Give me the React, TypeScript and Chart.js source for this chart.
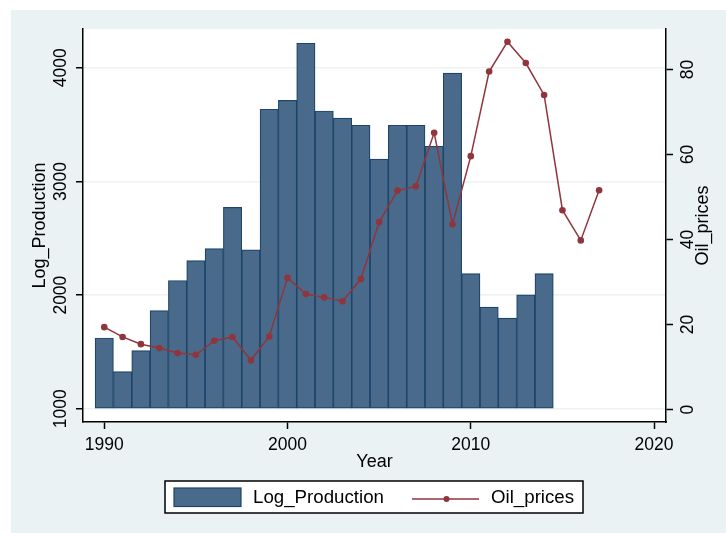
import React, { useEffect, useRef } from "react";
import { Chart, registerables } from "chart.js";

Chart.register(...registerables);

// ---- data ----
const years = [1990, 1991, 1992, 1993, 1994, 1995, 1996, 1997, 1998, 1999, 2000, 2001, 2002, 2003, 2004, 2005, 2006, 2007, 2008, 2009, 2010, 2011, 2012, 2013, 2014];
const logProduction = [1623, 1327, 1512, 1863, 2129, 2304, 2409, 2772, 2398, 3635, 3713, 4216, 3620, 3558, 3494, 3196, 3494, 3494, 3310, 3953, 2190, 1895, 1798, 2003, 2190];
const priceYears = [1990, 1991, 1992, 1993, 1994, 1995, 1996, 1997, 1998, 1999, 2000, 2001, 2002, 2003, 2004, 2005, 2006, 2007, 2008, 2009, 2010, 2011, 2012, 2013, 2014, 2015, 2016, 2017];
const oilPrices = [19.4, 17.1, 15.4, 14.5, 13.3, 12.9, 16.2, 17.1, 11.6, 17.2, 31.0, 27.2, 26.4, 25.5, 30.7, 44.1, 51.5, 52.5, 65.1, 43.6, 59.6, 79.5, 86.5, 81.5, 74.0, 46.9, 39.8, 51.6];
const xTicks = [1990, 2000, 2010, 2020];
const leftTicks = [1000, 2000, 3000, 4000];
const rightTicks = [0, 20, 40, 60, 80];
const barLabel = "Log_Production";
const lineLabel = "Oil_prices";
const xTitle = "Year";

// ---- styles ----
const FONT_FAMILY = "'Liberation Sans', Arial, sans-serif";
const TICK_SIZE = 17.5;
const TITLE_SIZE = 18;
const LEGEND_SIZE = 18.7;
const BAR_FILL = "#4a6a8c";
const BAR_BORDER = "#1c4569";
const LINE_COLOR = "#90353b";
const PANEL = "#eaf2f3";

const decorPlugin = {
  id: "decor",
  beforeDraw(chart: any) {
    const { ctx, chartArea: a, width, height } = chart;
    ctx.save();
    ctx.fillStyle = "#ffffff";
    ctx.fillRect(0, 0, width, height);
    ctx.fillStyle = PANEL;
    ctx.fillRect(11, 10, width - 11, height - 10);
    ctx.fillStyle = "#ffffff";
    ctx.fillRect(a.left, a.top, a.right - a.left, a.bottom - a.top);
    ctx.restore();
  },
  afterDraw(chart: any) {
    const { ctx, chartArea: a } = chart;
    const sy = chart.scales.y;
    const sr = chart.scales.y2;
    ctx.save();
    ctx.fillStyle = "#000";
    ctx.textAlign = "center";
    ctx.textBaseline = "middle";
    const rot = (text: string, x: number, y: number) => {
      ctx.save();
      ctx.translate(x, y);
      ctx.rotate(-Math.PI / 2);
      ctx.fillText(text, 0, 0);
      ctx.restore();
    };
    ctx.font = `${TICK_SIZE}px ${FONT_FAMILY}`;
    sy.ticks.forEach((t: any) => rot(String(t.value), 61, sy.getPixelForValue(t.value)));
    sr.ticks.forEach((t: any) => rot(String(t.value), 688, sr.getPixelForValue(t.value)));
    ctx.font = `${TITLE_SIZE}px ${FONT_FAMILY}`;
    const midY = (a.top + a.bottom) / 2;
    rot(barLabel, 40, midY);
    rot(lineLabel, 703.5, midY);
    ctx.fillText(xTitle, (a.left + a.right) / 2, 462);

    // legend
    const lx = 165, ly = 481, lw = 418, lh = 32;
    ctx.fillStyle = "#ffffff";
    ctx.fillRect(lx, ly, lw, lh);
    ctx.strokeStyle = "#000";
    ctx.lineWidth = 1.5;
    ctx.strokeRect(lx, ly, lw, lh);
    ctx.fillStyle = BAR_FILL;
    ctx.fillRect(174, 488, 67, 18.5);
    ctx.strokeStyle = BAR_BORDER;
    ctx.lineWidth = 1.2;
    ctx.strokeRect(174, 488, 67, 18.5);
    ctx.fillStyle = "#000";
    ctx.textAlign = "left";
    ctx.font = `${LEGEND_SIZE}px ${FONT_FAMILY}`;
    ctx.fillText(barLabel, 253, 498);
    ctx.strokeStyle = LINE_COLOR;
    ctx.lineWidth = 1.5;
    ctx.beginPath();
    ctx.moveTo(412, 499);
    ctx.lineTo(479, 499);
    ctx.stroke();
    ctx.fillStyle = LINE_COLOR;
    ctx.beginPath();
    ctx.arc(446.5, 499, 3, 0, Math.PI * 2);
    ctx.fill();
    ctx.fillStyle = "#000";
    ctx.fillText(lineLabel, 491, 498);
    ctx.restore();
  },
};

export default function App() {
  const ref = useRef<HTMLCanvasElement | null>(null);
  useEffect(() => {
    if (!ref.current) return;
    const tickFont = { family: FONT_FAMILY, size: TICK_SIZE };
    const chart = new Chart(ref.current, {
      type: "bar",
      data: {
        datasets: [
          {
            type: "line",
            label: lineLabel,
            data: priceYears.map((x, i) => ({ x, y: oilPrices[i] })),
            xAxisID: "x",
            yAxisID: "y2",
            borderColor: LINE_COLOR,
            backgroundColor: LINE_COLOR,
            borderWidth: 1.5,
            pointRadius: 3.3,
            pointBackgroundColor: LINE_COLOR,
            pointBorderColor: LINE_COLOR,
            pointBorderWidth: 0,
            tension: 0,
            order: 0,
          } as any,
          {
            type: "bar",
            label: barLabel,
            data: years.map((x, i) => ({ x, y: logProduction[i] })),
            base: 1000,
            xAxisID: "x",
            yAxisID: "y",
            backgroundColor: BAR_FILL,
            borderColor: BAR_BORDER,
            borderWidth: 1.2,
            borderSkipped: false,
            barPercentage: 1,
            categoryPercentage: 1,
            order: 1,
          } as any,
        ],
      },
      options: {
        responsive: false,
        animation: false,
        devicePixelRatio: 1,
        layout: { padding: { top: 29, left: 0, right: 0, bottom: 0 } },
        plugins: { legend: { display: false }, tooltip: { enabled: false } },
        scales: {
          x: {
            type: "linear",
            position: "bottom",
            offset: false,
            min: 1988.84,
            max: 2020.65,
            afterBuildTicks: (s: any) => {
              s.ticks = xTicks.map((v) => ({ value: v }));
            },
            afterFit: (s: any) => {
              s.height = 111;
            },
            ticks: { font: tickFont, color: "#000", padding: 6, maxRotation: 0, callback: (v: any) => String(v) },
            grid: { offset: false, drawOnChartArea: false, drawTicks: true, tickLength: 7, tickColor: "#000", tickWidth: 1.5 },
            border: { color: "#000", width: 1.5 },
          },
          y: {
            type: "linear",
            position: "left",
            min: 884,
            max: 4341,
            afterBuildTicks: (s: any) => {
              s.ticks = leftTicks.map((v) => ({ value: v }));
            },
            afterFit: (s: any) => {
              s.width = 83;
            },
            ticks: { display: false },
            grid: { color: PANEL, lineWidth: 1.5, drawTicks: true, tickLength: 7, tickColor: "#000", tickWidth: 1.5 },
            border: { color: "#000", width: 1.5 },
          },
          y2: {
            type: "linear",
            position: "right",
            min: -2.9,
            max: 89.5,
            afterBuildTicks: (s: any) => {
              s.ticks = rightTicks.map((v) => ({ value: v }));
            },
            afterFit: (s: any) => {
              s.width = 60;
            },
            ticks: { display: false },
            grid: { drawOnChartArea: false, drawTicks: true, tickLength: 7, tickColor: "#000", tickWidth: 1.5 },
            border: { color: "#000", width: 1.5 },
          },
        },
      } as any,
      plugins: [decorPlugin],
    });
    return () => chart.destroy();
  }, []);
  return (
    <div style={{ position: "absolute", left: 0, top: 0, width: 726, height: 533 }}>
      <canvas ref={ref} width={726} height={533} style={{ display: "block", width: 726, height: 533 }} />
    </div>
  );
}
